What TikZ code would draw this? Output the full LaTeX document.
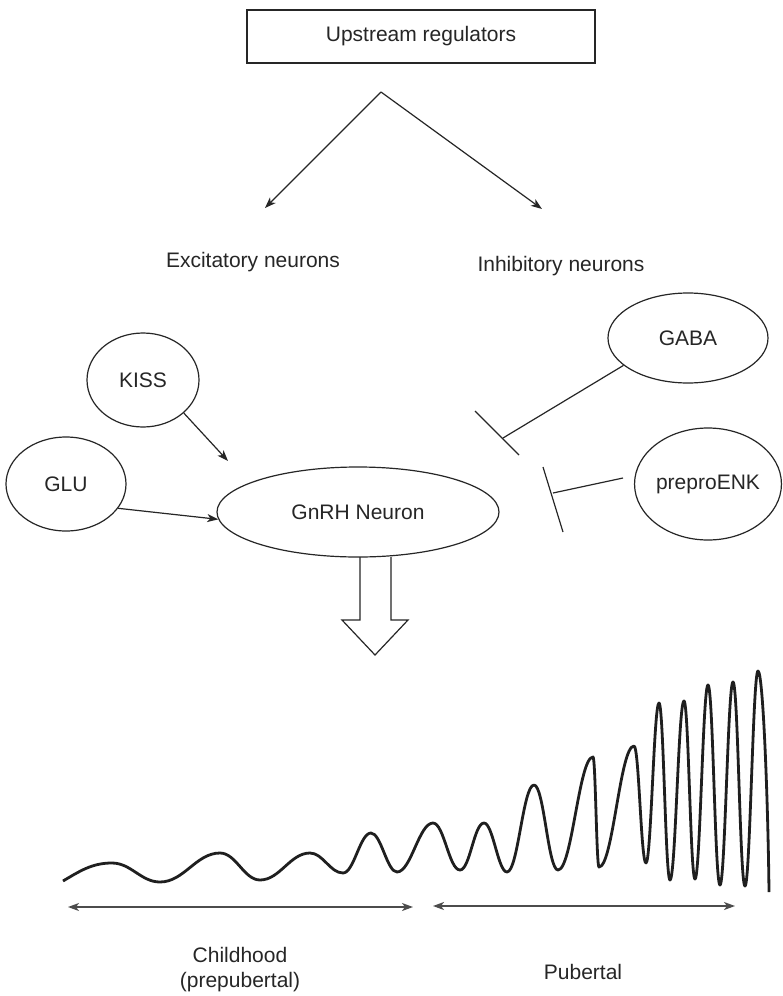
\documentclass[tikz,border=0pt]{standalone}
\usepackage{fontspec}
\setmainfont{Liberation Sans}
\usetikzlibrary{arrows.meta,shapes.geometric,calc}
\begin{document}
\begin{tikzpicture}[x=1pt,y=-1pt,
  txt/.style={font=\fontsize{21}{25}\selectfont, inner sep=0pt, text=black!85},
  oval/.style={draw=black!85, ellipse, line width=1.2pt, inner sep=0pt, font=\fontsize{21}{25}\selectfont, text=black!85},
  thinline/.style={draw=black!85, line width=1.2pt},
  arr/.style={thinline, -{Stealth[length=11pt,width=8pt,inset=3pt]}},
  darr/.style={draw=black!70, line width=1.4pt, {Stealth[length=11pt,width=8pt,inset=3pt]}-{Stealth[length=11pt,width=8pt,inset=3pt]}},
  wave/.style={draw=black!88, line width=2.8pt, line join=round}]
\useasboundingbox (0,0) rectangle (783,996);
\fill[white] (0,0) rectangle (783,996);

% top box
\node[thinline, draw, minimum width=348pt, minimum height=53pt, txt, inner sep=0pt] (up) at (421,36.5) {Upstream regulators};
\coordinate (apex) at (381,92);
\coordinate (exTip) at (265,208);
\coordinate (inTip) at (542,209);
\draw[arr] (apex) -- (exTip);
\draw[arr] (apex) -- (inTip);

\node[txt] (ex) at (253,262) {Excitatory neurons};
\node[txt] (in) at (561,266) {Inhibitory neurons};

% ellipses
\node[oval, minimum width=160pt, minimum height=90pt] (gaba) at (688,338) {GABA};
\node[oval, minimum width=146pt, minimum height=112pt] (enk) at (708,484) {preproENK};
\node[oval, minimum width=112pt, minimum height=94pt] (kiss) at (143,380) {KISS};
\node[oval, minimum width=120pt, minimum height=94pt] (glu) at (66,484) {GLU};
\node[oval, minimum width=282pt, minimum height=90pt] (gnrh) at (358,512) {GnRH Neuron};

% excitatory arrows
\coordinate (kissEnd) at (228,461);
\draw[arr] (kiss.-39) -- (kissEnd);
\draw[arr] (glu.-25) -- (gnrh.183);

% inhibitory connections
\coordinate (gabaEnd) at (503,438);
\draw[thinline] (gaba.203) -- (gabaEnd);
\coordinate (gabaBarA) at (475,411);
\coordinate (gabaBarB) at (519,455);
\draw[thinline] (gabaBarA) -- (gabaBarB);

\coordinate (enkStart) at (623,478);
\coordinate (enkEnd) at (553,493);
\draw[thinline] (enkStart) -- (enkEnd);
\coordinate (enkBarA) at (543,467);
\coordinate (enkBarB) at (563,532);
\draw[thinline] (enkBarA) -- (enkBarB);

% block arrow
\draw[thinline, line join=miter] (360,557) -- (360,620) -- (342,620) -- (375,655) -- (408,620) -- (391,620) -- (391,557);

% wave
\draw[wave] (63,881)
 .. controls (80,871) and (92,863) .. (112,863)
 .. controls (131,863) and (141,882) .. (160,882)
 .. controls (184,882) and (196,853) .. (220,853)
 .. controls (236,853) and (244,880) .. (260,880)
 .. controls (280,880) and (290,853) .. (310,853)
 .. controls (323,853) and (330,873) .. (343,873)
 .. controls (354,873) and (360,833) .. (371,833)
 .. controls (381,833) and (387,872) .. (397,872)
 .. controls (411,872) and (419,823) .. (433,823)
 .. controls (444,823) and (449,870) .. (460,870)
 .. controls (470,870) and (474,823) .. (484,823)
 .. controls (493,823) and (498,872) .. (507,872)
 .. controls (518,872) and (523,785) .. (534,785)
 .. controls (544,785) and (548,870) .. (558,870)
 .. controls (572,870) and (579,757) .. (593,757)
 .. controls (595.5,757) and (596.5,867) .. (599,867)
 .. controls (613,867) and (620,746) .. (634,746)
 .. controls (639,746) and (641,863) .. (646,863)
 .. controls (651,863) and (654,703) .. (659,703)
 .. controls (663.5,703) and (665.5,880) .. (670,880)
 .. controls (675.5,880) and (678.5,701) .. (684,701)
 .. controls (688.5,701) and (690.5,879) .. (695,879)
 .. controls (700,879) and (703,685) .. (708,685)
 .. controls (713,685) and (715,885) .. (720,885)
 .. controls (725,885) and (728,682) .. (733,682)
 .. controls (738,682) and (740,886) .. (745,886)
 .. controls (750,886) and (753,671) .. (758,671)
 .. controls (763,671) and (768,800) .. (769,892);

% period arrows
\coordinate (chA) at (68,907);
\coordinate (chB) at (413,907);
\coordinate (puA) at (433,906);
\coordinate (puB) at (735,906);
\draw[darr] (chA) -- (chB);
\draw[darr] (puA) -- (puB);

\node[txt, align=center] (child) at (240,970) {Childhood\\(prepubertal)};
\node[txt] (pub) at (583,972) {Pubertal};
\end{tikzpicture}
\end{document}
